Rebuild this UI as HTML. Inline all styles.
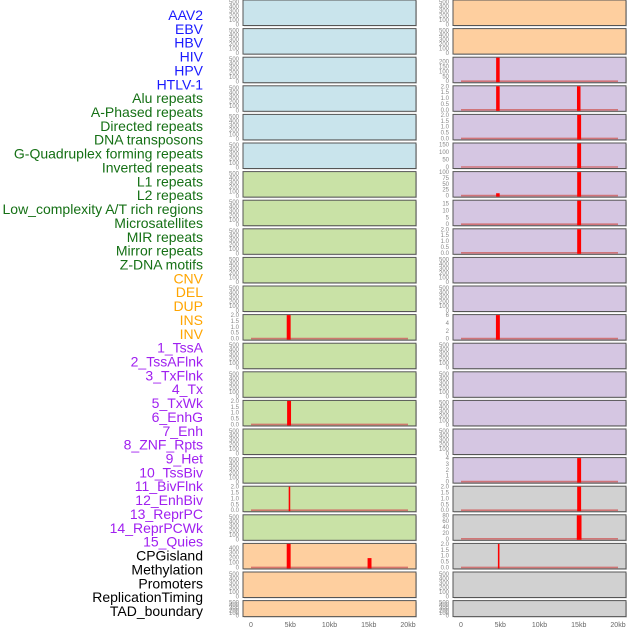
<!DOCTYPE html>
<html><head><meta charset="utf-8"><style>
html,body{margin:0;padding:0;background:#fff;width:630px;height:630px;overflow:hidden}
svg{display:block;font-family:"Liberation Sans",sans-serif}
</style></head><body>
<svg id="chart" width="630" height="630" xmlns="http://www.w3.org/2000/svg"></svg>
<script>
const labels=["AAV2","EBV","HBV","HIV","HPV","HTLV-1","Alu repeats","A-Phased repeats","Directed repeats","DNA transposons","G-Quadruplex forming repeats","Inverted repeats","L1 repeats","L2 repeats","Low_complexity A/T rich regions","Microsatellites","MIR repeats","Mirror repeats","Z-DNA motifs","CNV","DEL","DUP","INS","INV","1_TssA","2_TssAFlnk","3_TxFlnk","4_Tx","5_TxWk","6_EnhG","7_Enh","8_ZNF_Rpts","9_Het","10_TssBiv","11_BivFlnk","12_EnhBiv","13_ReprPC","14_ReprPCWk","15_Quies","CPGisland","Methylation","Promoters","ReplicationTiming","TAD_boundary"];
const labelGroups=[0,0,0,0,0,0,1,1,1,1,1,1,1,1,1,1,1,1,1,2,2,2,2,2,3,3,3,3,3,3,3,3,3,3,3,3,3,3,3,4,4,4,4,4];
const groupColors=["#1a1aff","#157015","#ffa500","#a020f0","#000000"];
const leftBg=[0,0,0,0,0,0,1,1,1,1,1,1,1,1,1,1,1,1,1,2,2,2];
const rightBg=[2,2,3,3,3,3,3,3,3,3,3,3,3,3,3,3,3,4,4,4,4,4];
const bgColors=["#c9e4ec","#c9e2a6","#fecf9f","#d5c6e2","#d1d1d1"];
const leftMax=[null,null,null,null,null,null,null,null,null,null,null,2,null,null,2,null,null,2,null,480,null,null];
const rightMax=[null,null,240,2,2,158,100,17,2,null,null,6,null,null,null,null,4,2,80,2,null,null];
const leftTicks=[null,null,null,null,null,null,null,null,null,null,null,[0,0.5,1,1.5,2],null,null,[0,0.5,1,1.5,2],null,null,[0,0.5,1,1.5,2],null,[0,100,200,300,400],null,null];
const rightTicks=[null,null,[0,50,100,150,200],[0,0.5,1,1.5,2],[0,0.5,1,1.5,2],[0,50,100,150],[0,25,50,75,100],[0,5,10,15],[0,0.5,1,1.5,2],null,null,[0,2,4,6],null,null,null,null,[0,1,2,3,4],[0,0.5,1,1.5,2],[0,20,40,60,80],[0,0.5,1,1.5,2],null,null];
const leftBarRow=[11,14,17,19,19];
const leftBarPos=[4.8,4.85,4.9,4.8,15.1];
const leftBarVal=[2,2,2,480,190];
const leftBarW=[0.5,0.5,0.2,0.5,0.5];
const rightBarRow=[2,3,3,4,5,6,6,7,8,11,16,17,18,19];
const rightBarPos=[4.7,4.7,15,15.05,15.05,15.05,4.7,15.05,15.05,4.7,15.05,15.05,15.05,4.8];
const rightBarVal=[240,2,2,2,158,100,10,17,2,6,4,2,80,2];
const rightBarW=[0.45,0.45,0.45,0.5,0.5,0.5,0.45,0.5,0.5,0.5,0.5,0.5,0.6,0.2];
const xTicks=[0,5,10,15,20];
const xTickLabels=["0","5kb","10kb","15kb","20kb"];
const emptyTicks=[0,100,200,300,400,500];

const NS="http://www.w3.org/2000/svg";
const svg=document.getElementById('chart');
function mk(t,a,p){const e=document.createElementNS(NS,t);for(const k in a)e.setAttribute(k,a[k]);(p||svg).appendChild(e);return e;}
const rowTop=i=>i*28.6;
const rowH=i=>i===21?16:25.5;

labels.forEach((l,i)=>{
  const t=mk('text',{x:203,y:15+i*13.86+5,'text-anchor':'end','font-size':14,fill:groupColors[labelGroups[i]]});
  t.textContent=l;
  
  
});

function column(x0,x1,bg,maxs,ticks,bRow,bPos,bVal,bW,side){
  const sx=kb=>x0+8+(kb/20)*(x1-x0-16);
  for(let i=0;i<22;i++){
    const top=rowTop(i),h=rowH(i),bot=top+h;
    const g=mk('g',{});
    
    
    mk('rect',{x:x0+1,y:top+1,width:x1-x0,height:h,fill:'#aaa',opacity:0.5},g);
    mk('rect',{x:x0,y:top,width:x1-x0,height:h,fill:bgColors[bg[i]],stroke:'#555','stroke-width':1},g);
    const y0=bot-1.5, yt=top+0.5;
    const m=maxs[i];
    let tk=ticks[i], sy;
    if(m===null){tk=emptyTicks;sy=v=>bot-1-(v/500)*(h-3);}
    else sy=v=>y0-(v/m)*(y0-yt);
    tk.forEach(v=>{
      const t=mk('text',{x:x0-4,y:sy(v)+2,'text-anchor':'end','font-size':6,fill:'#888'},g);
      t.textContent=(m!==null&&m<=2)?v.toFixed(1):String(v);
    });
    if(m!==null){
      mk('line',{x1:sx(0),x2:sx(20),y1:y0,y2:y0,stroke:'#d06060','stroke-width':1.6,opacity:0.8},g);
    }
  }
  bRow.forEach((r,k)=>{
    const m=maxs[r],top=rowTop(r),h=rowH(r),y0=top+h-1.5,yt=top+0.5;
    const yv=y0-(bVal[k]/m)*(y0-yt);
    const w=Math.max(1.5,(bW[k]/20)*(x1-x0-16));
    const b=mk('rect',{x:sx(bPos[k])-w/2,y:yv,width:w,height:y0-yv+1,fill:'#ff0000'});
    
    
  });
  xTicks.forEach((v,k)=>{
    const t=mk('text',{x:sx(v),y:627,'text-anchor':'middle','font-size':7,fill:'#666'});
    t.textContent=xTickLabels[k];
    
    
  });
}
column(243,416,leftBg,leftMax,leftTicks,leftBarRow,leftBarPos,leftBarVal,leftBarW,'left');
column(453,626,rightBg,rightMax,rightTicks,rightBarRow,rightBarPos,rightBarVal,rightBarW,'right');
</script>
</body></html>
